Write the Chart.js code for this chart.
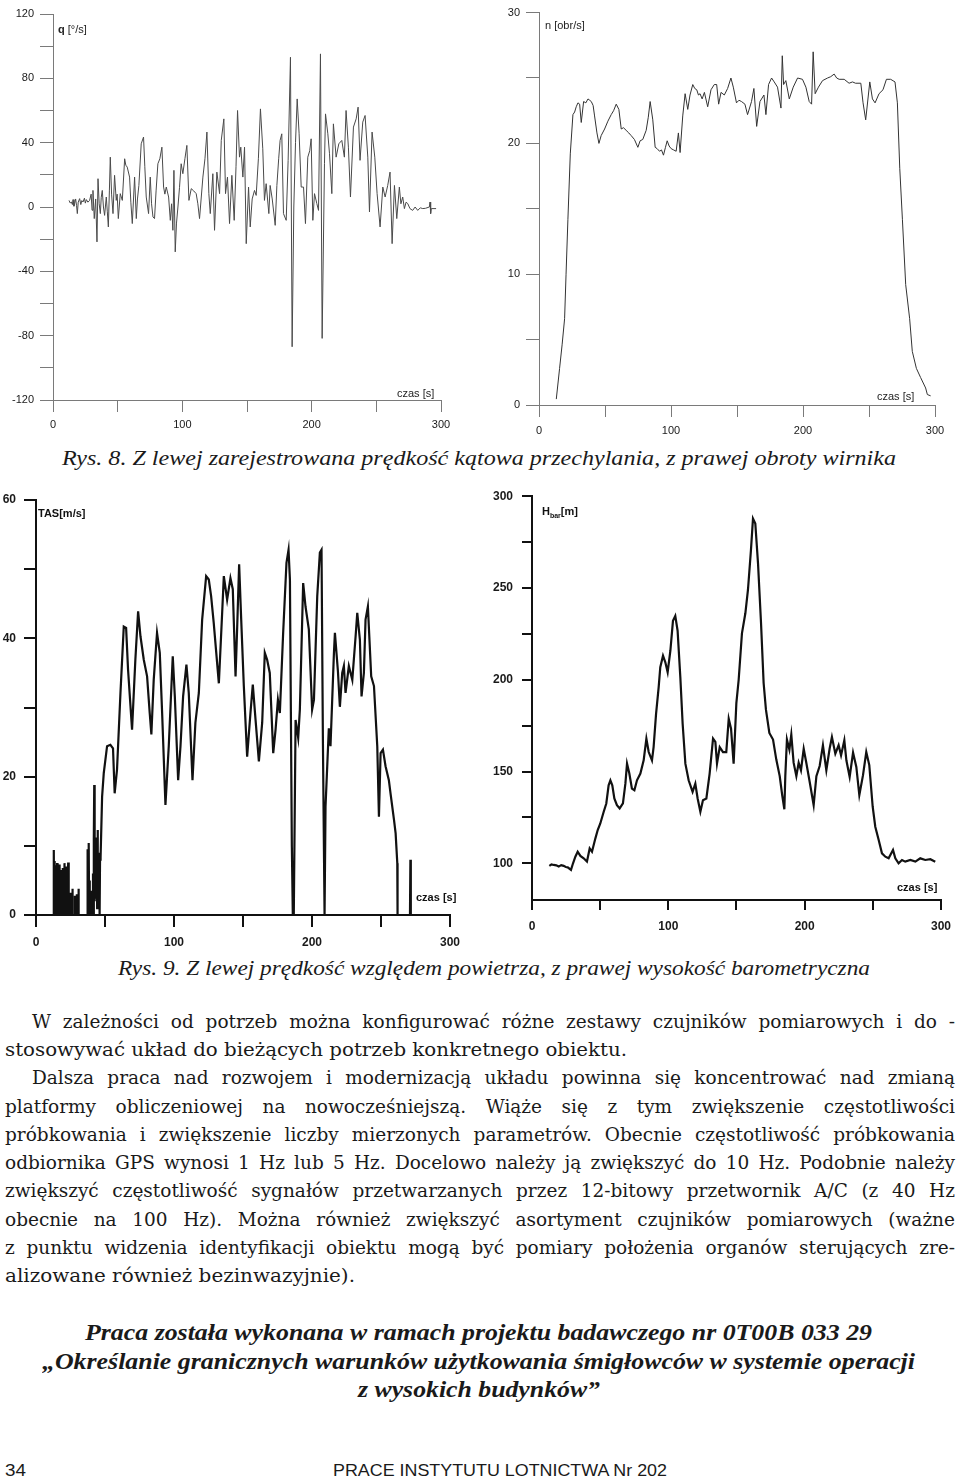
<!DOCTYPE html>
<html lang="pl">
<head>
<meta charset="utf-8">
<title>Rys. 8 i Rys. 9</title>
<script src="https://cdn.jsdelivr.net/npm/chart.js@4.4.1/dist/chart.umd.min.js"></script>
<style>
  body { margin: 0; width: 960px; height: 1480px; position: relative; background: #fff; overflow: hidden; color: #1a1a1a; }
  canvas { position: absolute; }
  .t { position: absolute; white-space: nowrap; line-height: 1; transform-origin: left center; }
  .ann { font-family: "Liberation Sans", Arial, sans-serif; font-size: 11px; color: #222; }
  .annb { font-family: "Liberation Sans", Arial, sans-serif; font-size: 11px; font-weight: bold; color: #111; }
  .cap { font-family: "Liberation Serif", serif; font-style: italic; font-size: 21px; }
  .body { font-family: "DejaVu Serif", serif; font-size: 18.5px; }
  .bi { font-family: "Liberation Serif", serif; font-style: italic; font-weight: bold; font-size: 23px; }
  .foot { font-family: "Liberation Sans Narrow", "Liberation Sans", Arial, sans-serif; font-size: 17px; }
</style>
</head>
<body>
<canvas id="cQ" width="470" height="440" style="left:0;top:0"></canvas>
<canvas id="cN" width="470" height="445" style="left:490px;top:0"></canvas>
<canvas id="cTas" width="470" height="475" style="left:0;top:480px"></canvas>
<canvas id="cH" width="480" height="460" style="left:480px;top:480px"></canvas>

<div id="texts"></div>

<script>
// Rys. 8 lewy: prędkość kątowa przechylania q [°/s], pary [czas s, wartość]
const qSeries = [[12.4,4.1],[13.3,2.5],[14.2,3.1],[15.0,1.5],[15.5,4.6],[16.2,0.5],[16.7,2.1],[17.5,5],[18.2,1],[18.8,-4.1],[19.5,3],[20.6,5.2],[21.5,1.5],[22.3,4],[23.2,3.1],[24.3,5.5],[25.0,2.4],[25.8,4.6],[27.0,3],[28.3,4.1],[29.5,8],[30.2,-2],[30.9,10.3],[31.9,-7.2],[33.0,5],[34.0,-21.7],[34.8,17.6],[35.7,2],[36.6,-4.1],[37.3,6],[38.1,10.3],[39.0,0],[39.9,-5.2],[41.2,6.2],[42.0,-3],[42.8,-12.4],[43.6,10],[44.3,31.0],[45.3,8],[46.4,-4.1],[47.6,19.7],[48.9,4.1],[49.6,8],[50.5,-7.2],[52.0,8.3],[53.6,4.1],[55.4,30.0],[56.3,26],[57.4,24.8],[59.2,18.6],[60.2,3],[61.3,-10.3],[63.1,18.6],[64.4,-7.2],[65.3,5],[66.4,13.4],[68.2,39.3],[70.0,43.5],[71.0,25],[72.1,6.2],[73.9,-4.1],[75.2,18.6],[76.2,2],[77.3,-6.2],[78.5,-7.2],[79.7,10],[81.1,26.9],[82.6,30],[84.2,37.2],[85.5,12.4],[86.5,8],[87.6,12.4],[89.4,6.2],[90.7,-8.3],[91.7,2],[92.7,-14.5],[93.5,22.8],[94.5,-27.9],[95.5,-10],[96.6,0],[97.8,12],[99.1,26.9],[100.4,20.7],[102.0,30],[103.5,38.3],[105.1,4.1],[106.9,11.4],[108.8,10],[110.7,8.3],[112.0,2],[113.3,-7.2],[115.9,18.6],[117.5,30],[119.0,46.6],[120.5,8.3],[121.6,-4.1],[123.6,20.7],[124.9,-14.5],[126.7,21.7],[128.8,8.3],[130.1,41.4],[132.1,54.8],[133.4,8.3],[134.9,18.6],[136.5,-10.3],[138.3,19.7],[140.1,-8.3],[141.5,25],[142.7,60.0],[144.2,31.0],[145.2,37.2],[146.8,18.6],[148.1,37.2],[149.4,-22.8],[151.2,12.4],[152.5,-12.4],[154.0,5],[155.8,10.3],[157.1,7.2],[158.8,30],[160.4,61.0],[162.2,36.2],[163.5,4.1],[164.8,14.5],[166.9,-4.1],[167.9,13.4],[169.5,5],[171.8,-11.4],[173.1,13.4],[174.5,30],[175.6,41.4],[176.9,45.5],[178.2,-4.1],[180.3,-8.3],[181.8,29.0],[183.6,93.1],[184.9,-86.9],[186.2,0],[187.5,40],[188.8,67.2],[190.3,45.5],[191.9,12.4],[193.7,12.4],[195.2,-10.3],[197.0,31.0],[198.5,35],[199.6,42.4],[200.9,-8.3],[202.2,8.3],[204.0,2.1],[205.3,-2.1],[206.8,95.2],[208.1,-81.7],[209.9,26.9],[210.7,57.9],[212.5,45.5],[213.8,33.1],[215.6,8.3],[216.8,51.7],[218.9,31.0],[221.0,39.3],[223.3,41.4],[225.3,31.0],[226.6,60.0],[228.4,37.2],[230.0,6.2],[232.3,49.7],[234.4,54.8],[235.9,62.1],[237.4,29.0],[239.5,52.8],[241.3,56.9],[243.4,31.0],[244.7,-3.1],[246.7,46.6],[248.8,31.0],[250.6,8.3],[252.9,-12.4],[255.0,12.4],[256.8,6.2],[258.8,13.4],[260.6,21.7],[262.2,-22.8],[264.0,13.4],[265.8,-7.2],[267.8,12.4],[269.0,2],[270.4,6.2],[271.7,-1.0],[273.0,3],[274.3,2.1],[276.0,-1],[278.1,-2.1],[280.0,0],[282.0,-2.1],[284.0,-0.5],[285.9,-1.0],[288.0,-0.8],[291.0,0],[291.5,3.1],[292.0,-4.1],[292.5,-1],[296.2,-1.0]];

// Rys. 8 prawy: obroty wirnika n [obr/s]
const nSeries = [[13.1,0.45],[15.6,2.8],[17.5,4.6],[19.4,6.6],[20.5,10],[21.9,14.2],[23.7,19.2],[25.7,22.2],[27.0,22.4],[28.2,22.8],[29.5,23.1],[30.8,23.0],[32.0,21.6],[33.8,23.2],[35.5,23.1],[37.1,23.4],[38.4,23.3],[39.6,23.2],[41.0,22.9],[42.1,22.1],[43.9,20.8],[45.4,20.0],[47.1,20.6],[49.7,21.1],[52.2,21.7],[54.7,22.2],[56.5,22.5],[58.5,23.0],[60.5,22.6],[62.3,21.1],[64.0,21.2],[66.0,21.0],[68.0,20.8],[69.8,20.6],[72.3,20.3],[74.9,19.7],[76.6,20.2],[78.6,20.3],[81.2,21.0],[82.8,22.0],[84.2,23.2],[86.2,21.8],[88.0,19.7],[89.5,19.6],[91.3,19.4],[92.8,19.5],[94.3,19.1],[95.8,19.7],[97.1,20.2],[98.6,19.8],[100.1,19.6],[102.0,19.5],[103.9,19.4],[105.6,20.8],[106.9,19.3],[108.9,22.1],[110.7,23.8],[112.7,22.6],[114.4,23.7],[116.5,24.5],[118.0,24.2],[119.5,24.1],[120.8,23.7],[122.0,23.8],[123.6,23.4],[125.3,23.9],[127.8,22.8],[130.3,24.1],[132.8,24.5],[134.6,24.5],[136.1,23.0],[137.9,23.9],[140.4,23.7],[142.9,24.2],[145.4,25.0],[147.2,24.3],[149.6,23.1],[151.5,23.3],[153.4,23.2],[156.0,23.0],[158.0,22.2],[161.0,23.2],[162.8,24.2],[164.9,21.3],[167.4,23.2],[170.4,23.7],[171.9,22.2],[173.9,24.5],[176.2,25.0],[178.2,24.7],[180.7,24.3],[183.3,22.7],[184.3,26.7],[185.3,24.5],[187.0,24.8],[189.6,23.4],[192.6,24.3],[195.9,25.0],[199.6,24.9],[202.2,24.3],[204.7,23.2],[206.5,23.0],[207.7,27.0],[209.2,23.8],[211.7,24.3],[214.8,24.8],[218.6,25.0],[221.0,25.1],[223.6,25.3],[225.5,25.0],[227.4,24.9],[231.2,24.9],[234.9,24.6],[237.5,24.7],[239.8,24.6],[243.8,24.6],[245.5,23.1],[247.5,21.8],[250.6,24.7],[252.6,23.4],[254.6,23.1],[257.6,23.8],[260.6,24.1],[263.2,24.9],[266.4,24.9],[269.7,24.7],[271.5,23.1],[273.3,18.1],[275.3,14.2],[277.8,9.2],[280.8,6.6],[282.8,4.1],[285.9,2.8],[289.1,2.1],[292.9,1.3],[294.2,0.8],[296.7,0.7]];

// Rys. 9 lewy: prędkość względem powietrza TAS [m/s]
const tasSeries = [[12.8,0],[12.9,9.4],[13.1,0],[13.3,6.5],[13.5,0],[13.7,7.8],[13.9,0],[14.1,6.0],[14.3,0],[14.5,7.2],[14.7,0.5],[14.9,6.8],[15.1,0],[15.3,7.5],[15.5,0],[15.7,6.2],[15.9,0],[16.1,7.0],[16.3,0],[16.5,6.4],[16.8,0],[17.0,7.3],[17.2,0],[17.4,6.1],[17.6,3.5],[17.8,6.3],[18.0,0],[18.3,6.5],[18.5,0],[18.8,6.2],[19.0,0],[19.3,6.8],[19.5,0],[19.8,6.0],[20.0,0],[20.3,6.4],[20.5,0],[20.8,7.5],[21.1,0],[21.4,6.0],[21.7,0],[22.0,7.0],[22.3,0],[22.6,6.5],[23.0,0],[23.3,7.6],[23.7,0],[24.6,0],[24.8,3.2],[25.0,0],[26.2,0],[26.4,3.8],[26.6,0],[28.0,0],[28.2,2.8],[28.4,0],[29.4,0],[29.6,3.0],[29.8,0],[30.6,0],[30.8,3.8],[31.0,0],[37.0,0],[37.2,4.0],[37.4,0],[37.6,9.5],[37.9,0],[38.2,10.4],[38.5,0],[38.8,5],[39.1,0],[39.5,3.5],[39.8,0],[41.0,0],[41.3,6],[41.6,0],[41.9,11],[42.2,18.8],[42.5,2],[42.8,9.5],[43.1,3],[43.4,11.2],[43.7,2.5],[44.0,8.6],[44.3,1],[44.6,12.3],[44.9,2],[45.2,8.7],[45.5,1],[45.8,9.0],[46.1,0],[46.4,8.0],[46.8,8.4],[47.9,17.1],[49.1,20.5],[51.5,24.4],[53.9,24.6],[55.8,24.1],[57.0,17.6],[58.7,21.0],[61.2,32.1],[63.6,41.7],[65.3,41.5],[66.7,35.5],[69.6,26.8],[72.0,36.9],[74.0,43.9],[75.7,40.3],[78.1,36.9],[80.5,34.5],[82.4,29.2],[83.6,26.1],[85.3,34.0],[87.7,40.8],[89.7,37.9],[91.4,29.2],[93.8,15.9],[96.2,24.4],[99.1,37.4],[100.6,31.6],[103.0,19.5],[104.7,24.4],[106.6,31.6],[109.0,36.2],[110.7,32.1],[113.4,19.5],[115.5,27.8],[118.0,32.1],[120.4,42.7],[123.3,49.0],[125.2,48.5],[126.9,46.1],[128.8,42.2],[132.5,33.5],[134.9,43.7],[136.1,49.0],[138.5,45.6],[140.9,48.7],[142.6,47.1],[144.6,34.5],[145.8,41.7],[147.2,50.7],[148.7,42.7],[150.6,33.1],[153.0,22.9],[155.4,29.2],[157.1,33.3],[159.1,28.2],[161.5,22.2],[163.9,27.8],[165.8,37.9],[167.5,36.9],[169.4,35.0],[171.9,23.4],[173.6,26.8],[175.3,31.1],[176.7,29.2],[179.1,40.8],[181.5,50.9],[183.0,52.8],[184.0,48.5],[185.4,9.9],[186.1,0],[186.8,0],[188.1,28.2],[190.0,25.6],[191.2,29.7],[193.6,48.0],[195.3,44.6],[197.7,41.3],[200.1,29.7],[201.4,31.1],[203.8,46.1],[205.7,52.4],[206.9,52.8],[207.9,25.3],[209.1,0],[209.8,15.7],[212.2,27.0],[213.4,24.4],[215.9,37.9],[216.6,40.8],[218.8,35.2],[220.2,30.1],[221.9,35.0],[223.1,36.0],[224.3,32.1],[226.7,36.0],[229.2,34.0],[231.6,40.3],[232.8,43.7],[234.7,39.8],[235.9,31.6],[237.6,35.0],[238.8,42.7],[240.5,44.6],[242.9,34.5],[244.9,33.1],[247.3,24.4],[248.5,14.2],[249.7,23.4],[251.4,23.9],[253.3,21.5],[255.7,19.5],[256.9,17.6],[259.4,13.8],[260.6,11.8],[261.8,7.5],[262.0,0],[271.0,0],[271.3,8.0],[271.6,0]];

// Rys. 9 prawy: wysokość barometryczna H [m]
const hSeries = [[12.7,98.6],[14.3,99.4],[15.9,99.1],[17.8,98.9],[19.6,98.2],[21.4,99.0],[23.2,98.6],[24.8,98.0],[26.2,97.8],[28.6,96.4],[30.1,100],[31.8,103.6],[33.5,106.3],[35.5,104.0],[37.9,102.7],[40.3,100.9],[42.3,108.1],[44.0,106.3],[46.5,113.6],[48.2,118.1],[50.1,121.7],[52.6,128.1],[54.5,132.6],[56.2,142.5],[57.5,145.2],[58.9,142.5],[60.4,135.3],[62.3,131.7],[64.3,129.9],[66.7,132.6],[68.5,143.4],[69.7,154.3],[71.4,148.9],[73.3,140.7],[75.1,139.8],[77.0,145.2],[79.5,148.9],[81.9,156.1],[83.9,167.9],[85.6,160.6],[88.0,156.1],[89.2,163.3],[91.0,181.4],[92.9,195.9],[94.1,206.8],[96.1,213.1],[97.8,209.5],[99.5,204.1],[101.5,215.8],[103.4,232.1],[105.1,234.8],[106.8,226.7],[108.8,201.4],[110.5,176.0],[112.5,154.3],[114.9,145.2],[117.8,138.9],[119.8,143.4],[121.5,135.3],[123.5,128.1],[125.4,134.4],[127.9,135.3],[130.3,148.9],[132.8,167.9],[134.5,166.1],[135.7,154.3],[137.7,163.3],[140.1,160.6],[142.5,160.6],[144.3,178.7],[146.0,173.3],[147.9,154.3],[149.9,187.3],[151.6,200.0],[154.0,225.3],[156.5,236.2],[158.4,248.9],[160.6,270.6],[162.1,287.8],[163.8,285.1],[165.8,263.3],[168.0,230.8],[169.9,198.2],[171.6,183.7],[174.1,171.0],[176.8,167.4],[179.2,156.5],[181.7,147.5],[183.6,136.7],[185.1,129.4],[185.8,147.5],[187.0,167.4],[188.8,161.9],[190.2,170.1],[191.9,154.8],[193.9,147.5],[195.6,154.8],[197.3,150.7],[199.3,162.4],[201.2,154.8],[203.7,144.3],[206.6,131.7],[208.6,147.5],[211.0,153.0],[213.4,164.3],[215.9,150.7],[218.3,162.4],[220.0,168.8],[222.5,159.7],[224.9,164.3],[226.7,158.8],[229.1,167.0],[230.6,156.1],[233.0,147.1],[235.5,160.3],[237.9,152.5],[240.1,137.1],[242.8,148.0],[245.2,160.6],[247.4,153.5],[249.9,130.8],[251.8,119.9],[254.3,112.7],[256.7,105.4],[259.2,103.6],[261.6,102.7],[264.8,107.2],[266.5,102.7],[268.9,100.0],[271.4,101.8],[273.8,100.9],[277.5,101.8],[281.2,100.9],[284.8,102.7],[288.5,101.8],[292.2,102.2],[295.8,100.9]];

// osie: wszystkie kreski podziałki i te z opisem
const timeTicks = [0, 50, 100, 150, 200, 250, 300];
const timeLabels = [0, 100, 200, 300];
const qTicks = [-120, -100, -80, -60, -40, -20, 0, 20, 40, 60, 80, 100, 120];
const qLabels = [-120, -80, -40, 0, 40, 80, 120];
const nTicks = [0, 5, 10, 15, 20, 25, 30];
const nLabels = [0, 10, 20, 30];
const tasTicks = [0, 10, 20, 30, 40, 50, 60];
const tasLabels = [0, 20, 40, 60];
const hTicks = [100, 125, 150, 175, 200, 225, 250, 275, 300];
const hLabels = [100, 150, 200, 250, 300];

function panel(id, series, o) {
  const font = { family: '"Liberation Sans", Arial, sans-serif', size: o.fontSize, weight: o.bold ? 'bold' : 'normal' };
  const grid = { drawOnChartArea: false, color: o.axisColor, lineWidth: o.tickWidth };
  return new Chart(document.getElementById(id), {
    type: 'line',
    data: {
      datasets: [{
        data: series.map(p => ({ x: p[0], y: p[1] })),
        borderColor: o.lineColor,
        borderWidth: o.lineWidth,
        pointRadius: 0,
        tension: 0,
        fill: false
      }]
    },
    options: {
      responsive: false,
      animation: false,
      events: [],
      layout: { padding: { top: o.padTop, right: o.padRight, left: 0, bottom: 0 } },
      plugins: { legend: { display: false }, tooltip: { enabled: false } },
      scales: {
        x: {
          type: 'linear', min: 0, max: 300,
          afterBuildTicks: s => { s.ticks = timeTicks.map(v => ({ value: v })); },
          afterFit: s => { s.height = 40; },
          ticks: { autoSkip: false, maxRotation: 0, padding: o.xPad, color: '#1a1a1a', font,
                   callback: v => timeLabels.includes(v) ? String(v) : '' },
          grid: Object.assign({ tickLength: o.xTick }, grid),
          border: { color: o.axisColor, width: o.axisWidth }
        },
        y: {
          type: 'linear', min: o.yMin, max: o.yMax,
          afterBuildTicks: s => { s.ticks = o.yTicks.map(v => ({ value: v })); },
          afterFit: s => { s.width = o.yWidth; },
          ticks: { autoSkip: false, padding: o.yPad, color: '#1a1a1a', font,
                   callback: v => o.yLabels.includes(v) ? String(v) : '' },
          grid: Object.assign({ tickLength: o.yTick }, grid),
          border: { color: o.axisColor, width: o.axisWidth }
        }
      }
    }
  });
}

const thin = { lineColor: '#4a4a4a', lineWidth: 1, axisColor: '#7a7a7a', axisWidth: 1, tickWidth: 1, fontSize: 11, bold: false };
const thick = { lineColor: '#111', lineWidth: 2.2, axisColor: '#111', axisWidth: 2, tickWidth: 2, fontSize: 12, bold: true };

panel('cQ', qSeries, Object.assign({}, thin, { yMin: -120, yMax: 120, yTicks: qTicks, yLabels: qLabels,
  yWidth: 53, padTop: 14, padRight: 29, yTick: 13, yPad: 6, xTick: 12, xPad: 6 }));
panel('cN', nSeries, Object.assign({}, thin, { lineColor: '#333', yMin: 0, yMax: 30, yTicks: nTicks, yLabels: nLabels,
  yWidth: 49, padTop: 7, padRight: 25, yTick: 13, yPad: 6, xTick: 12, xPad: 7 }));
panel('cTas', tasSeries, Object.assign({}, thick, { yMin: 0, yMax: 60, yTicks: tasTicks, yLabels: tasLabels,
  yWidth: 36, padTop: 20, padRight: 20, yTick: 12, yPad: 8, xTick: 12, xPad: 8 }));
panel('cH', hSeries, Object.assign({}, thick, { yMin: 80, yMax: 300, yTicks: hTicks, yLabels: hLabels,
  yWidth: 52, padTop: 15, padRight: 19, yTick: 10, yPad: 9, xTick: 10, xPad: 9 }));

// teksty strony: [klasa, tekst/html, lewo, środek y, szerokość docelowa, wyjustować]
const pageTexts = [
  ['ann', '<b>q</b> [°/s]', 58, 29, 0, false],
  ['ann', 'czas [s]', 397, 393, 0, false],
  ['ann', 'n [obr/s]', 545, 25, 0, false],
  ['ann', 'czas [s]', 877, 396, 0, false],
  ['annb', 'TAS[m/s]', 38, 513, 0, false],
  ['annb', 'czas [s]', 416, 897, 0, false],
  ['annb', 'H<sub style="font-size:7px">bar</sub>[m]', 542, 511, 0, false],
  ['annb', 'czas [s]', 897, 887, 0, false],
  ['cap', 'Rys. 8. Z lewej zarejestrowana prędkość kątowa przechylania, z prawej obroty wirnika', 62, 458, 834, false],
  ['cap', 'Rys. 9. Z lewej prędkość względem powietrza, z prawej wysokość barometryczna', 118, 968, 752, false],
  ['body', 'W zależności od potrzeb można konfigurować różne zestawy czujników pomiarowych i do -', 32, 1022, 923, true],
  ['body', 'stosowywać układ do bieżących potrzeb konkretnego obiektu.', 5, 1050, 622, false],
  ['body', 'Dalsza praca nad rozwojem i modernizacją układu powinna się koncentrować nad zmianą', 32, 1078, 923, true],
  ['body', 'platformy obliczeniowej na nowocześniejszą. Wiąże się z tym zwiększenie częstotliwości', 5, 1107, 950, true],
  ['body', 'próbkowania i zwiększenie liczby mierzonych parametrów. Obecnie częstotliwość próbkowania', 5, 1135, 950, true],
  ['body', 'odbiornika GPS wynosi 1 Hz lub 5 Hz. Docelowo należy ją zwiększyć do 10 Hz. Podobnie należy', 5, 1163, 950, true],
  ['body', 'zwiększyć częstotliwość sygnałów przetwarzanych przez 12-bitowy przetwornik A/C (z 40 Hz', 5, 1191, 950, true],
  ['body', 'obecnie na 100 Hz). Można również zwiększyć asortyment czujników pomiarowych (ważne', 5, 1220, 950, true],
  ['body', 'z punktu widzenia identyfikacji obiektu mogą być pomiary położenia organów sterujących zre-', 5, 1248, 950, true],
  ['body', 'alizowane również bezinwazyjnie).', 5, 1276, 350, false],
  ['bi', 'Praca została wykonana w ramach projektu badawczego nr 0T00B 033 29', 85, 1332, 787, false],
  ['bi', '„Określanie granicznych warunków użytkowania śmigłowców w systemie operacji', 42, 1361, 873, false],
  ['bi', 'z wysokich budynków”', 358, 1389, 242, false],
  ['foot', '34', 5, 1470, 21, false],
  ['foot', 'PRACE INSTYTUTU LOTNICTWA Nr 202', 333, 1470, 334, false]
];

const host = document.getElementById('texts');
pageTexts.forEach(([cls, html, x, yc, width, justify]) => {
  const el = document.createElement('span');
  el.className = 't ' + cls;
  el.innerHTML = html;
  host.appendChild(el);
  const size = parseFloat(getComputedStyle(el).fontSize);
  el.style.left = x + 'px';
  el.style.top = (yc - size * 0.5) + 'px';
  if (width) {
    const w = el.getBoundingClientRect().width;
    const spaces = (el.textContent.match(/ /g) || []).length;
    if (justify && w < width && spaces) {
      el.style.wordSpacing = ((width - w) / spaces) + 'px';
    } else {
      el.style.transform = 'scaleX(' + (width / w) + ')';
    }
  }
});
</script>
</body>
</html>
